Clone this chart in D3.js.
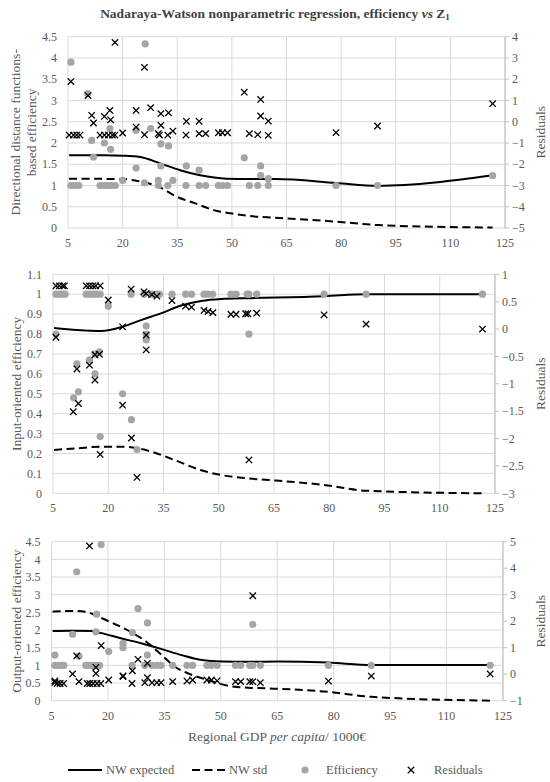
<!DOCTYPE html>
<html><head><meta charset="utf-8">
<script src="https://cdn.jsdelivr.net/npm/d3@7"></script>
<style>
html,body{margin:0;padding:0;background:#fff;}
text{font-family:"Liberation Serif","DejaVu Serif",serif;}
</style></head>
<body><svg id="c" width="550" height="782"></svg>
<script>
// ---- data ----
const xTicks = [5,20,35,50,65,80,95,110,125];

const dirEff = [[5.8,3.9],[5.8,1],[6.9,1],[8,1],[10.4,3.16],[11.5,2.06],[12,1.67],[13.8,1],[15,1],[16,1],[17,1],[18,1],[15,2.0],[16.5,2.34],[16.7,1.85],[20,1.12],[23.7,1.41],[23.7,2.3],[26.2,4.33],[26,1.06],[27.7,2.34],[29.8,1.12],[29.8,1],[30.5,1.98],[30.5,1.46],[32.4,1],[32.6,1.93],[33.8,1.12],[37.4,1],[37.5,1.46],[41,1.36],[41,1],[42.8,1],[46.3,1],[47.4,1],[48.8,1],[53.4,1.65],[54.8,1],[57.1,1],[57.9,1.46],[57.9,1.24],[60,1.16],[60,1],[78.6,1],[90,1],[121.6,1.23]];
const dirRes = [[5.8,1.89],[5.3,-0.63],[6.5,-0.63],[7.4,-0.63],[8.3,-0.63],[10.5,1.23],[11.5,0.30],[12,-0.06],[13.8,-0.63],[15,-0.63],[16.1,-0.63],[17.2,-0.63],[17.9,-0.63],[15,0.25],[16.5,0.53],[16.7,0.09],[17.9,3.73],[20,-0.53],[23.7,0.53],[23.7,-0.25],[26,2.56],[26,-0.61],[27.7,0.66],[29.8,-0.56],[30.1,-0.63],[30.5,-0.17],[30.5,0.38],[32.4,-0.63],[32.6,0.42],[33.8,-0.44],[37.4,-0.63],[37.5,0.02],[41,0.02],[41,-0.56],[42.8,-0.56],[46.3,-0.52],[47.4,-0.52],[48.8,-0.52],[53.4,1.39],[54.8,-0.56],[57.1,-0.61],[57.9,1.05],[57.9,0.27],[60,0.03],[60,-0.64],[78.6,-0.51],[90,-0.2],[121.6,0.85]];
const dirNW = [[5.3,1.71],[15,1.71],[20,1.70],[24.8,1.67],[30.3,1.52],[35.8,1.36],[41.3,1.24],[48.6,1.16],[55,1.15],[61.9,1.15],[78.6,1.06],[90,0.99],[121.6,1.24]];
const dirStd = [[5.3,1.16],[20,1.15],[25,1.09],[30,0.97],[35,0.73],[40,0.58],[45,0.42],[50,0.34],[55,0.28],[62,0.24],[78.6,0.15],[90,0.07],[121.6,0.01]];

const inpEff = [[5.8,1],[6.7,1],[7.6,1],[8.3,1],[5.8,0.80],[11.5,0.65],[10.6,0.48],[11.9,0.51],[14,1],[14.9,1],[15.8,1],[16.7,1],[17.8,1],[14.9,0.67],[16.4,0.60],[16.4,0.70],[17.6,0.71],[17.8,0.285],[20,0.94],[23.9,0.50],[26.3,0.37],[26.2,1],[27.8,0.22],[29.7,1],[30.3,0.84],[30.3,0.80],[30.3,0.77],[31.8,1],[33.2,1],[33.9,1],[37.3,1],[41,1],[42.6,1],[46,1],[47,1],[48.3,1],[53.3,1],[54.7,1],[57.7,1],[58.2,1],[60.3,1],[58.2,0.80],[78.6,1],[90,1],[121.6,1]];
const inpRes = [[5.8,0.79],[6.7,0.79],[7.6,0.79],[8.1,0.79],[5.8,-0.15],[10.5,-1.51],[11.5,-0.73],[11.9,-1.36],[14,0.79],[14.9,0.79],[15.8,0.79],[16.6,0.79],[17.8,0.79],[14.9,-0.66],[16.4,-0.93],[16.4,-0.47],[17.6,-0.46],[17.8,-2.29],[20,0.53],[23.9,0.04],[23.9,-1.39],[26.2,0.73],[26.3,-1.99],[27.8,-2.71],[29.7,0.68],[30.3,0.65],[30.3,-0.11],[30.3,-0.38],[31.8,0.63],[33.2,0.60],[37.3,0.52],[41,0.42],[42.6,0.40],[46,0.34],[47.1,0.32],[48.4,0.30],[53.3,0.27],[54.7,0.27],[57.3,0.28],[57.9,0.28],[60.3,0.29],[58.2,-2.39],[78.6,0.26],[90,0.09],[121.6,0.0]];
const inpNW = [[5.3,0.83],[11.6,0.82],[18,0.815],[24,0.837],[28.9,0.87],[34.3,0.904],[39.8,0.943],[45.2,0.966],[50.6,0.976],[57.9,0.98],[65.6,0.983],[78.6,0.99],[90,1.0],[121.6,1.0]];
const inpStd = [[5.3,0.218],[11.6,0.226],[18,0.234],[24,0.234],[28,0.226],[31.6,0.21],[38,0.167],[45,0.117],[50.6,0.092],[57.9,0.075],[65.6,0.064],[78.6,0.042],[90,0.013],[121.6,0.0]];

const outEff = [[5.9,1.29],[5.9,1],[6.8,1],[7.7,1],[8.3,1],[10.6,1.88],[11.7,3.65],[12.3,1.26],[14.1,1],[15,1],[15.8,1],[16.8,1],[17.8,1],[17,2.45],[16.8,1.95],[18.2,4.42],[20.2,1.39],[24,1.62],[24,1.5],[26.4,1],[26.5,1.93],[28,2.61],[29.8,1],[30.5,1.29],[30.5,2.2],[31.7,1],[33,1],[34.1,1],[37.2,1],[41,1],[42.5,1],[46.3,1],[47.5,1],[49,1],[53.9,1],[55.3,1],[57.7,1],[58.5,1],[60.5,1],[58.5,2.16],[78.6,1],[90,1],[121.6,1]];
const outRes = [[5.9,-0.31],[6.5,-0.35],[7.3,-0.35],[8.2,-0.35],[5.9,-0.25],[10.6,0.01],[11.7,0.69],[12.3,-0.28],[14.5,-0.35],[15.2,-0.35],[16.1,-0.35],[17.1,-0.35],[18.1,-0.35],[15.1,4.84],[16.8,0.26],[16.8,0.03],[18.2,1.08],[20.2,-0.22],[24,-0.06],[24,-0.09],[26.4,-0.35],[26.5,0.13],[28,0.56],[29.8,-0.32],[30.5,-0.13],[30.5,0.41],[31.7,-0.32],[33,-0.32],[34.1,-0.32],[37.2,-0.28],[41,-0.26],[42.5,-0.22],[46.3,-0.22],[47.5,-0.22],[49,-0.25],[53.9,-0.28],[55.3,-0.28],[57.7,-0.28],[58.5,-0.28],[60.5,-0.32],[58.5,2.96],[78.6,-0.26],[90,-0.07],[121.6,0.01]];
const outNW = [[5.3,1.97],[10,1.98],[16,1.97],[18,1.92],[23.7,1.76],[29,1.62],[34.3,1.46],[39.6,1.29],[45,1.15],[50.3,1.11],[57.9,1.10],[65,1.11],[78.6,1.08],[90,1.01],[121.6,1.01]];
const outStd = [[5.3,2.52],[10.5,2.54],[14,2.52],[17.8,2.36],[21.4,2.19],[26.7,1.91],[30.2,1.67],[34.3,1.29],[37.8,0.96],[41.4,0.77],[46.7,0.58],[52,0.42],[57.3,0.37],[65,0.34],[78.6,0.25],[90,0.11],[121.6,0.0]];

const dirLeftTicks = d3.range(0, 4.51, 0.5);
const dirRightTicks = d3.range(-5, 4.01, 1);
const inpLeftTicks = d3.range(0, 1.101, 0.1);
const inpRightTicks = d3.range(-3, 1.01, 0.5);
const outLeftTicks = d3.range(0, 4.51, 0.5);
const outRightTicks = d3.range(-1, 5.01, 1);

const title = "Nadaraya-Watson nonparametric regression, efficiency ";
const legendLabels = ["NW expected","NW std","Efficiency","Residuals"];

// ---- drawing ----
const svg = d3.select("#c");
const GRID = "#d9d9d9", TXT = "#595959", DOT = "#a5a5a5";

const t = svg.append("text").attr("x", 275).attr("y", 18).attr("text-anchor","middle")
  .attr("font-size", 13.5).attr("font-weight","bold").attr("fill","#404040");
t.append("tspan").text(title);
t.append("tspan").attr("font-style","italic").text("vs");
t.append("tspan").text(" Z");
t.append("tspan").attr("font-size", 9).attr("dy", 2).text("1");

function fmt(v){ return d3.format("")(Math.round(v*100)/100); }

function panel(cfg){
  const x = d3.scaleLinear().domain([5,125]).range([cfg.x0, cfg.x1]);
  const yl = d3.scaleLinear().domain(cfg.ld).range([cfg.yb, cfg.yt]);
  const yr = d3.scaleLinear().domain(cfg.rd).range([cfg.yb, cfg.yt]);
  const g = svg.append("g");
  // gridlines
  g.selectAll(".hg").data(cfg.lt).enter().append("line")
    .attr("x1", cfg.x0).attr("x2", cfg.x1).attr("y1", d=>yl(d)).attr("y2", d=>yl(d))
    .attr("stroke", GRID).attr("stroke-width", 1);
  g.selectAll(".vg").data(xTicks).enter().append("line")
    .attr("x1", d=>x(d)).attr("x2", d=>x(d)).attr("y1", cfg.yt).attr("y2", cfg.yb)
    .attr("stroke", GRID).attr("stroke-width", 1);
  // left tick labels
  g.selectAll(".lt").data(cfg.lt).enter().append("text")
    .attr("x", cfg.x0 - 11).attr("y", d=>yl(d)).attr("dy","0.35em")
    .attr("text-anchor","end").attr("font-size", 12).attr("fill", TXT).text(d=>fmt(d));
  // x tick labels
  g.selectAll(".xt").data(xTicks).enter().append("text")
    .attr("x", d=>x(d)).attr("y", cfg.yb + 19)
    .attr("text-anchor","middle").attr("font-size", 12).attr("fill", TXT).text(d=>d);
  // right axis
  g.append("line").attr("x1", cfg.x1).attr("x2", cfg.x1).attr("y1", cfg.yt).attr("y2", cfg.yb)
    .attr("stroke", "#bfbfbf");
  g.selectAll(".rtk").data(cfg.rt).enter().append("line")
    .attr("x1", cfg.x1).attr("x2", cfg.x1 + 4).attr("y1", d=>yr(d)).attr("y2", d=>yr(d))
    .attr("stroke", "#bfbfbf");
  g.selectAll(".rt").data(cfg.rt).enter().append("text")
    .attr("x", cfg.x1 + 7).attr("y", d=>yr(d)).attr("dy","0.35em")
    .attr("text-anchor","start").attr("font-size", 12).attr("fill", TXT).text(d=>fmt(d));
  // axis titles
  cfg.ltitle.forEach((s,i)=>{
    g.append("text").attr("transform", `translate(${cfg.ltx[i]},${(cfg.yt+cfg.yb)/2}) rotate(-90)`)
      .attr("text-anchor","middle").attr("dy","0.35em").attr("font-size", 13.5).attr("fill", TXT).text(s);
  });
  g.append("text").attr("transform", `translate(540,${(cfg.yt+cfg.yb)/2}) rotate(-90)`)
    .attr("text-anchor","middle").attr("dy","0.35em").attr("font-size", 13.5).attr("fill", TXT).text("Residuals");
  // lines
  const line = d3.line().x(d=>x(d[0])).y(d=>yl(d[1])).curve(d3.curveMonotoneX);
  g.append("path").attr("d", line(cfg.nw)).attr("fill","none").attr("stroke","#000").attr("stroke-width",2);
  g.append("path").attr("d", line(cfg.std)).attr("fill","none").attr("stroke","#000").attr("stroke-width",2)
    .attr("stroke-dasharray","8,4.5");
  // dots
  g.selectAll(".dot").data(cfg.eff).enter().append("circle")
    .attr("cx", d=>x(d[0])).attr("cy", d=>yl(d[1])).attr("r", 3.6).attr("fill", DOT);
  // residual crosses
  const s = 3.2;
  g.selectAll(".res").data(cfg.res).enter().append("path")
    .attr("d", d=>{const cx=x(d[0]), cy=yr(d[1]);
      return `M${cx-s},${cy-s}L${cx+s},${cy+s}M${cx-s},${cy+s}L${cx+s},${cy-s}`;})
    .attr("stroke","#000").attr("stroke-width",1.3).attr("fill","none");
}

panel({x0:68, x1:505, yt:36.7, yb:228, ld:[0,4.5], rd:[-5,4], lt:dirLeftTicks, rt:dirRightTicks,
  ltitle:["Directional distance functions-","based efficiency"], ltx:[15,31],
  eff:dirEff, res:dirRes, nw:dirNW, std:dirStd});
panel({x0:53, x1:495, yt:274.3, yb:493.3, ld:[0,1.1], rd:[-3,1], lt:inpLeftTicks, rt:inpRightTicks,
  ltitle:["Input-oriented efficiency"], ltx:[16],
  eff:inpEff, res:inpRes, nw:inpNW, std:inpStd});
panel({x0:51.5, x1:503, yt:541.7, yb:700.7, ld:[0,4.5], rd:[-1,5], lt:outLeftTicks, rt:outRightTicks,
  ltitle:["Output-oriented efficiency"], ltx:[16],
  eff:outEff, res:outRes, nw:outNW, std:outStd});

// x-axis title
const xt = svg.append("text").attr("x", 277).attr("y", 741).attr("text-anchor","middle")
  .attr("font-size", 13.5).attr("fill", TXT);
xt.append("tspan").text("Regional GDP ");
xt.append("tspan").attr("font-style","italic").text("per capita");
xt.append("tspan").text("/ 1000€");

// legend
const ly = 770;
const lg = svg.append("g");
lg.append("line").attr("x1",68).attr("x2",102).attr("y1",ly).attr("y2",ly).attr("stroke","#000").attr("stroke-width",2);
lg.append("line").attr("x1",192).attr("x2",227).attr("y1",ly).attr("y2",ly).attr("stroke","#000").attr("stroke-width",2).attr("stroke-dasharray","8,4.5");
lg.append("circle").attr("cx",305).attr("cy",ly).attr("r",3.6).attr("fill",DOT);
lg.append("path").attr("d",`M${411-3.2},${ly-3.2}L${411+3.2},${ly+3.2}M${411-3.2},${ly+3.2}L${411+3.2},${ly-3.2}`)
  .attr("stroke","#000").attr("stroke-width",1.3);
[106,229,326,434].forEach((lx,i)=>{
  lg.append("text").attr("x",lx).attr("y",ly).attr("dy","0.35em").attr("font-size",12.5).attr("fill",TXT).text(legendLabels[i]);
});
</script></body></html>
